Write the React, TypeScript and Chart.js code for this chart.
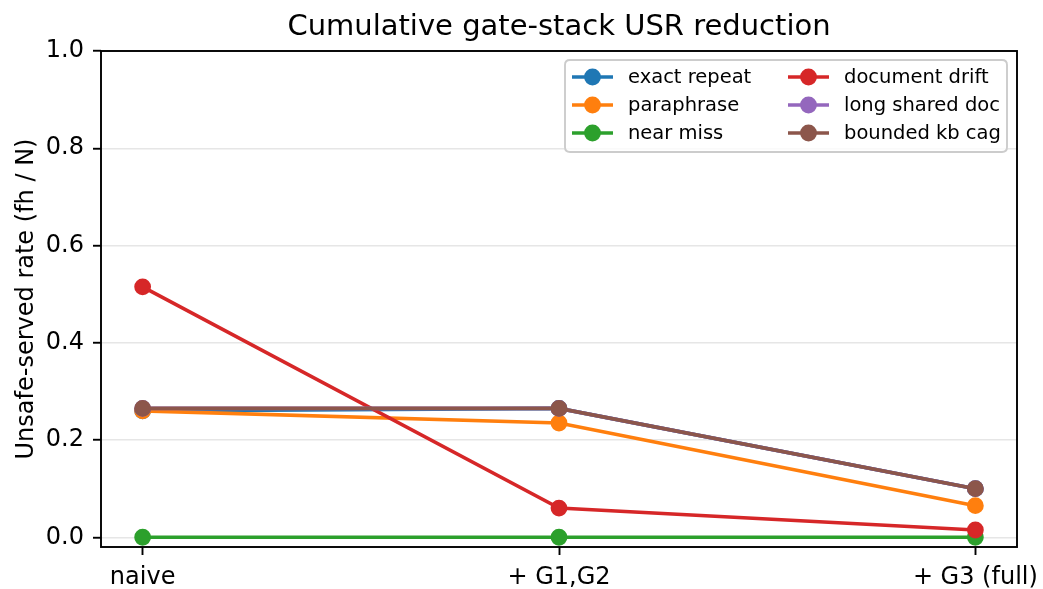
import React, { useEffect, useRef } from 'react';
import { Chart, registerables } from 'chart.js';

Chart.register(...registerables);

const stages = ['naive', '+ G1,G2', '+ G3 (full)'];
const seriesNames = ['exact repeat', 'paraphrase', 'near miss', 'document drift', 'long shared doc', 'bounded kb cag'];
const exactRepeat = [0.26, 0.265, 0.1];
const paraphrase = [0.26, 0.235, 0.065];
const nearMiss = [0, 0, 0];
const documentDrift = [0.515, 0.06, 0.015];
const longSharedDoc = [0.265, 0.265, 0.1];
const boundedKbCag = [0.265, 0.265, 0.1];
const yTicks = [0, 0.2, 0.4, 0.6, 0.8, 1.0];
const seriesColors = ['#1f77b4', '#ff7f0e', '#2ca02c', '#d62728', '#9467bd', '#8c564b'];

const titleText = 'Cumulative gate-stack USR reduction';
const yLabelText = 'Unsafe-served rate (fh / N)';

const FONT = '"DejaVu Sans", Verdana, sans-serif';

const overlayPlugin = {
  id: 'overlay',
  afterDatasetsDraw(chart: any) {
    const { ctx, chartArea } = chart;
    ctx.save();
    ctx.strokeStyle = '#000';
    ctx.lineWidth = 1.9;
    ctx.strokeRect(chartArea.left, chartArea.top, chartArea.right - chartArea.left, chartArea.bottom - chartArea.top);
    ctx.restore();
  },
  afterDraw(chart: any) {
    const { ctx, chartArea } = chart;
    ctx.save();
    // title
    ctx.fillStyle = '#000';
    ctx.font = `29px ${FONT}`;
    ctx.textAlign = 'center';
    ctx.textBaseline = 'alphabetic';
    ctx.fillText(titleText, (chartArea.left + chartArea.right) / 2, 35);
    // y label
    ctx.save();
    ctx.translate(33, (chartArea.top + chartArea.bottom) / 2);
    ctx.rotate(-Math.PI / 2);
    ctx.font = `24px ${FONT}`;
    ctx.textAlign = 'center';
    ctx.textBaseline = 'alphabetic';
    ctx.fillText(yLabelText, 0, 0);
    ctx.restore();
    // legend
    const bx = 565, by = 60, bw = 442, bh = 92, r = 5;
    ctx.beginPath();
    ctx.moveTo(bx + r, by);
    ctx.lineTo(bx + bw - r, by);
    ctx.quadraticCurveTo(bx + bw, by, bx + bw, by + r);
    ctx.lineTo(bx + bw, by + bh - r);
    ctx.quadraticCurveTo(bx + bw, by + bh, bx + bw - r, by + bh);
    ctx.lineTo(bx + r, by + bh);
    ctx.quadraticCurveTo(bx, by + bh, bx, by + bh - r);
    ctx.lineTo(bx, by + r);
    ctx.quadraticCurveTo(bx, by, bx + r, by);
    ctx.closePath();
    ctx.fillStyle = 'rgba(255,255,255,0.8)';
    ctx.fill();
    ctx.strokeStyle = '#cccccc';
    ctx.lineWidth = 1.9;
    ctx.stroke();
    const rows = [77, 105, 133];
    const cols = [572, 788];
    ctx.font = `19.5px ${FONT}`;
    ctx.textAlign = 'left';
    ctx.textBaseline = 'middle';
    seriesNames.forEach((name, i) => {
      const col = Math.floor(i / 3);
      const row = i % 3;
      const x0 = cols[col];
      const y = rows[row];
      ctx.strokeStyle = seriesColors[i];
      ctx.lineWidth = 3.6;
      ctx.beginPath();
      ctx.moveTo(x0, y);
      ctx.lineTo(x0 + 41, y);
      ctx.stroke();
      ctx.beginPath();
      ctx.arc(x0 + 20.5, y, 8.4, 0, Math.PI * 2);
      ctx.fillStyle = seriesColors[i];
      ctx.fill();
      ctx.fillStyle = '#000';
      ctx.fillText(name, x0 + 56, y + 1);
    });
    ctx.restore();
  },
};

export default function App() {
  const canvasRef = useRef<HTMLCanvasElement | null>(null);

  useEffect(() => {
    if (!canvasRef.current) return;
    const allSeries = [exactRepeat, paraphrase, nearMiss, documentDrift, longSharedDoc, boundedKbCag];
    const n = allSeries.length;
    const chart = new Chart(canvasRef.current, {
      type: 'line',
      data: {
        datasets: allSeries.map((vals, i) => ({
          label: seriesNames[i],
          data: vals.map((v, k) => ({ x: k, y: v })),
          borderColor: seriesColors[i],
          backgroundColor: seriesColors[i],
          pointBackgroundColor: seriesColors[i],
          pointBorderColor: seriesColors[i],
          borderWidth: 3.6,
          pointRadius: 7.2,
          pointBorderWidth: 2.4,
          pointHoverRadius: 7.2,
          tension: 0,
          fill: false,
          clip: false as any,
          order: n - 1 - i,
        })),
      },
      options: {
        animation: false,
        responsive: false,
        devicePixelRatio: 1,
        events: [],
        layout: { padding: { left: 0, right: 26, top: 51, bottom: 0 } },
        plugins: {
          legend: { display: false },
          title: { display: false },
          tooltip: { enabled: false },
        },
        scales: {
          x: {
            type: 'linear',
            min: -0.1,
            max: 2.1,
            afterFit: (s: any) => { s.height = 42; s.paddingLeft = 0; s.paddingRight = 0; },
            afterBuildTicks: (s: any) => { s.ticks = stages.map((_, k) => ({ value: k })); },
            ticks: {
              callback: (v: any) => stages[Math.round(Number(v))] ?? '',
              font: { family: FONT, size: 24 },
              color: '#000',
              padding: 8,
              autoSkip: false,
              maxRotation: 0,
              minRotation: 0,
            },
            grid: {
              drawOnChartArea: false,
              drawTicks: true,
              tickLength: 8,
              tickWidth: 1.9,
              tickColor: '#000',
            },
            border: { display: false },
          },
          y: {
            type: 'linear',
            min: -0.02,
            max: 1.0,
            afterFit: (s: any) => { s.width = 101; s.paddingTop = 0; s.paddingBottom = 0; },
            afterBuildTicks: (s: any) => { s.ticks = yTicks.map((v) => ({ value: v })); },
            ticks: {
              callback: (v: any) => Number(v).toFixed(1),
              font: { family: FONT, size: 24 },
              color: '#000',
              padding: 9,
            },
            grid: {
              color: '#e6e6e6',
              lineWidth: 1.5,
              drawTicks: true,
              tickLength: 8,
              tickWidth: 1.9,
              tickColor: '#000',
            },
            border: { display: false },
          },
        },
      },
      plugins: [overlayPlugin],
    } as any);
    return () => chart.destroy();
  }, []);

  return (
    <div style={{ position: 'fixed', left: 0, top: 0, width: 1043, height: 589, background: '#fff' }}>
      <canvas ref={canvasRef} width={1043} height={589} style={{ width: 1043, height: 589, display: 'block' }} />
    </div>
  );
}
